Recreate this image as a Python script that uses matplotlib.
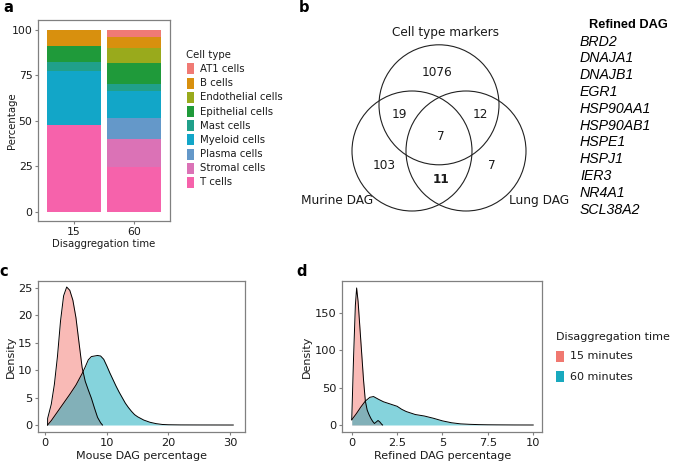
import matplotlib
matplotlib.use("Agg")
import matplotlib.pyplot as plt
from matplotlib.patches import Circle, Rectangle
import numpy as np

W, H = 674, 465

# ---------------- data ----------------
cell_types = ["AT1 cells", "B cells", "Endothelial cells", "Epithelial cells",
              "Mast cells", "Myeloid cells", "Plasma cells", "Stromal cells", "T cells"]
cell_colors = ["#F07A74", "#D8900E", "#99AA1C", "#1F9A3A", "#20A08A",
               "#12A6C8", "#6498C9", "#DB72B6", "#F662AB"]
times = ["15", "60"]
pct_15 = [0, 8.6, 0, 8.8, 5.0, 29.8, 0, 0, 47.8]
pct_60 = [4.0, 6.1, 7.9, 11.7, 3.8, 15.0, 11.4, 15.2, 24.9]

venn_sets = ["Cell type markers", "Murine DAG", "Lung DAG"]
venn_counts = {"markers": 1076, "markers_murine": 19, "markers_lung": 12, "all": 7,
               "murine": 103, "murine_lung": 11, "lung": 7}
refined_dag = ["BRD2", "DNAJA1", "DNAJB1", "EGR1", "HSP90AA1", "HSP90AB1",
               "HSPE1", "HSPJ1", "IER3", "NR4A1", "SCL38A2"]

# density curves
c15_x = [0.4, 0.41, 0.5, 1.0, 1.5, 2.0, 2.5, 3.0, 3.5, 4.0, 4.5, 5.0, 5.5, 6.0,
         6.5, 7.0, 7.5, 8.0, 8.5, 9.0, 9.3]
c15_y = [0, 1.2, 1.6, 3.8, 7.4, 12.5, 19.0, 23.6, 25.2, 24.6, 22.8, 19.6, 15.0,
         10.5, 8.0, 6.4, 4.9, 3.1, 1.4, 0.4, 0]
c60_x = [0.4, 1.0, 2.0, 3.0, 4.0, 5.0, 6.0, 6.5, 7.0, 7.5, 8.0, 8.5, 9.0, 9.5,
         10.0, 10.5, 11.0, 11.5, 12.0, 12.5, 13.0, 13.5, 14.0, 14.5, 15.0, 15.5,
         16.0, 17.0, 18.0, 19.0, 20.0, 22.0, 25.0, 30.5]
c60_y = [0, 0.8, 2.4, 4.0, 5.6, 7.3, 9.4, 10.6, 11.9, 12.5, 12.6, 12.7, 12.6, 12.0,
         10.8, 9.5, 8.3, 7.1, 6.0, 5.0, 4.0, 3.2, 2.5, 1.9, 1.5, 1.2, 0.9, 0.5,
         0.25, 0.1, 0.05, 0.02, 0.01, 0]
d15_x = [0, 0.1, 0.2, 0.27, 0.35, 0.45, 0.55, 0.65, 0.75, 0.85, 0.95, 1.05, 1.15,
         1.25, 1.35, 1.45, 1.55, 1.65, 1.7]
d15_y = [7, 90, 160, 183, 165, 130, 95, 60, 32, 20, 14, 9, 5, 2, 4, 6, 4, 1, 0]
d60_x = [0, 0.25, 0.5, 0.75, 1.0, 1.2, 1.5, 1.75, 2.0, 2.25, 2.5, 2.75, 3.0, 3.5,
         4.0, 4.5, 5.0, 5.5, 6.0, 6.5, 7.0, 7.5, 8.0, 9.0, 10.0]
d60_y = [7, 15, 24, 32, 37, 38, 34, 31, 29, 27, 25, 21, 18, 14, 12, 9, 5.5, 3,
         1.5, 0.9, 0.5, 0.3, 0.2, 0.05, 0]
dens_labels = ["15 minutes", "60 minutes"]
dens_colors = ["#F4766E", "#0DA8BA"]
legend_colors = ["#F07870", "#19A9BE"]

# ---------------- helpers ----------------
FRAME = "#808080"
TXT = "#1a1a1a"
FS = 8
plt.rcParams["font.family"] = "DejaVu Sans"

fig = plt.figure(figsize=(W / 100, H / 100), dpi=100)


def px_axes(l, t, r, b):
    return fig.add_axes([l / W, 1 - b / H, (r - l) / W, (b - t) / H])


def fx(x):
    return x / W


def fy(y):
    return 1 - y / H


def style(ax, ls):
    for s in ax.spines.values():
        s.set_color(FRAME)
        s.set_linewidth(0.9)
    ax.tick_params(direction="out", length=2.5, width=0.8, color=FRAME,
                   labelsize=ls, labelcolor=TXT, pad=1.5)
    ax.set_facecolor("white")


# ---------------- a: stacked bars ----------------
FSA = 7.3
axa = px_axes(38, 20, 170, 221)
style(axa, 7.8)
xpos = np.arange(1, len(times) + 1)
bottom = np.zeros(len(times))
for i in reversed(range(len(cell_types))):
    vals = np.array([pct_15[i], pct_60[i]])
    axa.bar(xpos, vals, width=0.9, bottom=bottom, color=cell_colors[i], linewidth=0)
    bottom += vals
axa.set_xlim(0.4, 2.6)
axa.set_ylim(-5, 105.5)
axa.set_xticks(xpos)
axa.set_xticklabels(times)
axa.set_yticks([0, 25, 50, 75, 100])
axa.set_ylabel("Percentage", fontsize=FSA, color=TXT)
axa.yaxis.set_label_coords(-0.16, 0.5)
axa.set_xlabel("Disaggregation time", fontsize=FSA, color=TXT)
axa.xaxis.set_label_coords(0.5, -0.088)

fig.text(fx(186.5), fy(55), "Cell type", fontsize=FSA, color=TXT, va="center")
for k, (name, col) in enumerate(zip(cell_types, cell_colors)):
    yc = 69 + k * 14.17
    fig.add_artist(Rectangle((fx(186.7), fy(yc + 5.5)), 7.5 / W, 11 / H,
                             transform=fig.transFigure, color=col, lw=0))
    fig.text(fx(200), fy(yc), name, fontsize=FSA, color=TXT, va="center")

# ---------------- b: venn ----------------
# units: circle radius = 1, 60 px per unit, origin at px (439, 151)
axb = px_axes(320, 20, 560, 230)
axb.set_xlim(-119 / 60, 121 / 60)
axb.set_ylim(-79 / 60, 131 / 60)
axb.axis("off")
centers = [(0, 0.77), (-0.45, 0), (0.45, 0)]
for c in centers:
    axb.add_patch(Circle(c, 1.0, fill=False, ec="#222222", lw=0.8))
vfs = 8.7
axb.text(0.1, 1.967, venn_sets[0], ha="center", va="center", fontsize=vfs, color=TXT)
axb.text(-1.705, -0.817, venn_sets[1], ha="center", va="center", fontsize=vfs, color=TXT)
axb.text(1.667, -0.817, venn_sets[2], ha="center", va="center", fontsize=vfs, color=TXT)
label_pos = {"markers": (-0.04, 1.305), "markers_murine": (-0.667, 0.6),
             "markers_lung": (0.683, 0.6), "all": (0.03, 0.238),
             "murine": (-0.917, -0.245), "murine_lung": (0.03, -0.483),
             "lung": (0.878, -0.245)}
for key, n in venn_counts.items():
    x, y = label_pos[key]
    axb.text(x, y, str(n), ha="center", va="center", fontsize=vfs, color=TXT,
             fontweight="bold" if key == "murine_lung" else "normal")

fig.text(fx(589), fy(25), "Refined DAG", fontsize=9.2, fontweight="bold",
         family="Liberation Sans", color="black", va="center")
for k, g in enumerate(refined_dag):
    fig.text(fx(580), fy(41.7 + k * 16.8), g, fontsize=10.2, style="italic",
             family="Liberation Sans", color="black", va="center")

# ---------------- c / d: densities ----------------
def density(ax, xs, ys):
    for x, y, col in zip(xs, ys, dens_colors):
        ax.fill_between(x, 0, y, color=col, alpha=0.5, lw=0)
        ax.plot(x, y, color="black", lw=0.7)


axc = px_axes(37.7, 281, 245, 432.3)
style(axc, 8.2)
density(axc, [c15_x, c60_x], [c15_y, c60_y])
axc.set_xlim(-1.2, 32.4)
axc.set_ylim(-1.33, 26.3)
axc.set_xticks([0, 10, 20, 30])
axc.set_yticks([0, 5, 10, 15, 20, 25])
axc.set_xlabel("Mouse DAG percentage", fontsize=FS, color=TXT)
axc.xaxis.set_label_coords(0.5, -0.122)
axc.set_ylabel("Density", fontsize=FS, color=TXT)
axc.yaxis.set_label_coords(-0.105, 0.5)

axd = px_axes(342.3, 281, 542.3, 432.3)
style(axd, 8.2)
density(axd, [d15_x, d60_x], [d15_y, d60_y])
axd.set_xlim(-0.52, 10.5)
axd.set_ylim(-9.75, 192.3)
axd.set_xticks([0, 2.5, 5, 7.5, 10])
axd.set_xticklabels(["0", "2.5", "5", "7.5", "10"])
axd.set_yticks([0, 50, 100, 150])
axd.set_xlabel("Refined DAG percentage", fontsize=FS, color=TXT)
axd.xaxis.set_label_coords(0.5, -0.122)
axd.set_ylabel("Density", fontsize=FS, color=TXT)
axd.yaxis.set_label_coords(-0.15, 0.5)

fig.text(fx(556), fy(336.7), "Disaggregation time", fontsize=FS, color=TXT, va="center")
for k, (lab, col) in enumerate(zip(dens_labels, legend_colors)):
    yc = 356 + k * 20.7
    fig.add_artist(Rectangle((fx(556), fy(yc + 5.5)), 8 / W, 11 / H,
                             transform=fig.transFigure, color=col, lw=0))
    fig.text(fx(570.5), fy(yc), lab, fontsize=FS, color=TXT, va="center")

# ---------------- panel letters ----------------
for letter, (x, y) in zip("abcd", [(8, 8), (304, 7), (4, 272), (302, 272)]):
    fig.text(fx(x), fy(y), letter, fontsize=10.5, fontweight="bold",
             ha="center", va="center", color="black")

fig.savefig("out.png", dpi=100)
